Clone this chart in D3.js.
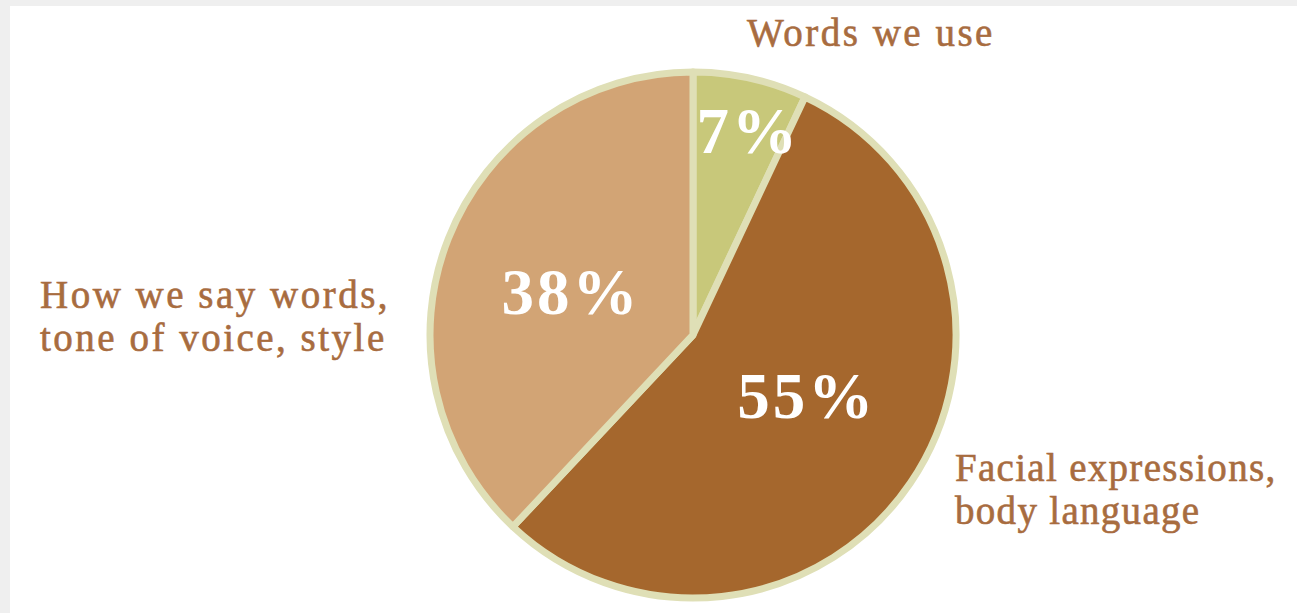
<!DOCTYPE html>
<html>
<head>
<meta charset="utf-8">
<script src="https://cdn.jsdelivr.net/npm/d3@7"></script>
<style>
  body { margin: 0; background: #efefef; }
  svg { display: block; }
</style>
</head>
<body>
<svg id="chart" width="1297" height="613"></svg>
<script>
// slice data, clockwise from 12 o'clock
var categories = ["Words we use", "Facial expressions, body language", "How we say words, tone of voice, style"];
var shares = [7, 55, 38];
var sliceColors = ["#c8c87a", "#a5672d", "#d2a475"];
var labelLines = [["Words we use"], ["Facial expressions,", "body language"], ["How we say words,", "tone of voice, style"]];

var svg = d3.select("#chart");
var width = 1297, height = 613;

//white panel with grey edge on top and left
svg.append("rect").attr("x", 10).attr("y", 6).attr("width", width - 10).attr("height", height - 6).attr("fill", "#ffffff");

var cx = 693, cy = 335, radius = 263;

var pie = d3.pie().sort(null).value(function(d) { return d; });
var arcDef = d3.arc().innerRadius(0).outerRadius(radius);
var arcLabel = d3.arc().innerRadius(128).outerRadius(128);
var arcLabelSmall = d3.arc().innerRadius(208).outerRadius(208);
//small hand nudges so the numbers sit where the original put them
var pctNudge = [[10, -2], [8, -12], [-3, 3]];

var g = svg.append("g").attr("transform", "translate(" + cx + "," + cy + ")");
var arcs = pie(shares);

g.selectAll(".slice")
	.data(arcs)
	.enter().append("path")
	.attr("class", "slice")
	.attr("d", arcDef)
	.attr("fill", function(d, i) { return sliceColors[i]; })
	.attr("stroke", "#dfdfb6")
	.attr("stroke-width", 7)
	.attr("stroke-linejoin", "round");

//percent labels, small slice pushed outward
g.selectAll(".pct")
	.data(arcs)
	.enter().append("text")
	.attr("class", "pct")
	.attr("transform", function(d, i) {
		var a = (d.endAngle - d.startAngle) < 0.5 ? arcLabelSmall : arcLabel;
		var c = a.centroid(d);
		return "translate(" + (c[0] + pctNudge[i][0]) + "," + (c[1] + pctNudge[i][1]) + ")";
	})
	.attr("dy", "0.35em")
	.attr("text-anchor", "middle")
	.style("font-family", "'Liberation Serif', 'DejaVu Serif', serif")
	.style("font-weight", "bold")
	.style("font-size", "65px")
	.style("letter-spacing", "3px")
	.attr("fill", "#ffffff")
	.text(function(d) { return d.data + "%"; });

//category labels outside the pie
var labelPos = [
	{ x: 871, y: 46, anchor: "middle", ls: 2.5 },
	{ x: 955, y: 481, anchor: "start", ls: 1.3 },
	{ x: 40, y: 308, anchor: "start", ls: 2.5 }
];

var lbl = svg.selectAll(".cat")
	.data(labelLines)
	.enter().append("text")
	.attr("class", "cat")
	.attr("x", function(d, i) { return labelPos[i].x; })
	.attr("y", function(d, i) { return labelPos[i].y; })
	.attr("text-anchor", function(d, i) { return labelPos[i].anchor; })
	.style("font-family", "'Liberation Serif', 'DejaVu Serif', serif")
	.style("font-size", "39px")
	.style("letter-spacing", function(d, i) { return labelPos[i].ls + "px"; })
	.attr("fill", "#a86c3f")
	.attr("stroke", "#a86c3f")
	.attr("stroke-width", 0.6);

lbl.selectAll("tspan")
	.data(function(d, i) { return d.map(function(t) { return { t: t, i: i }; }); })
	.enter().append("tspan")
	.attr("x", function(d) { return labelPos[d.i].x; })
	.attr("dy", function(d, j) { return j === 0 ? 0 : 43; })
	.text(function(d) { return d.t; });
</script>
</body>
</html>
